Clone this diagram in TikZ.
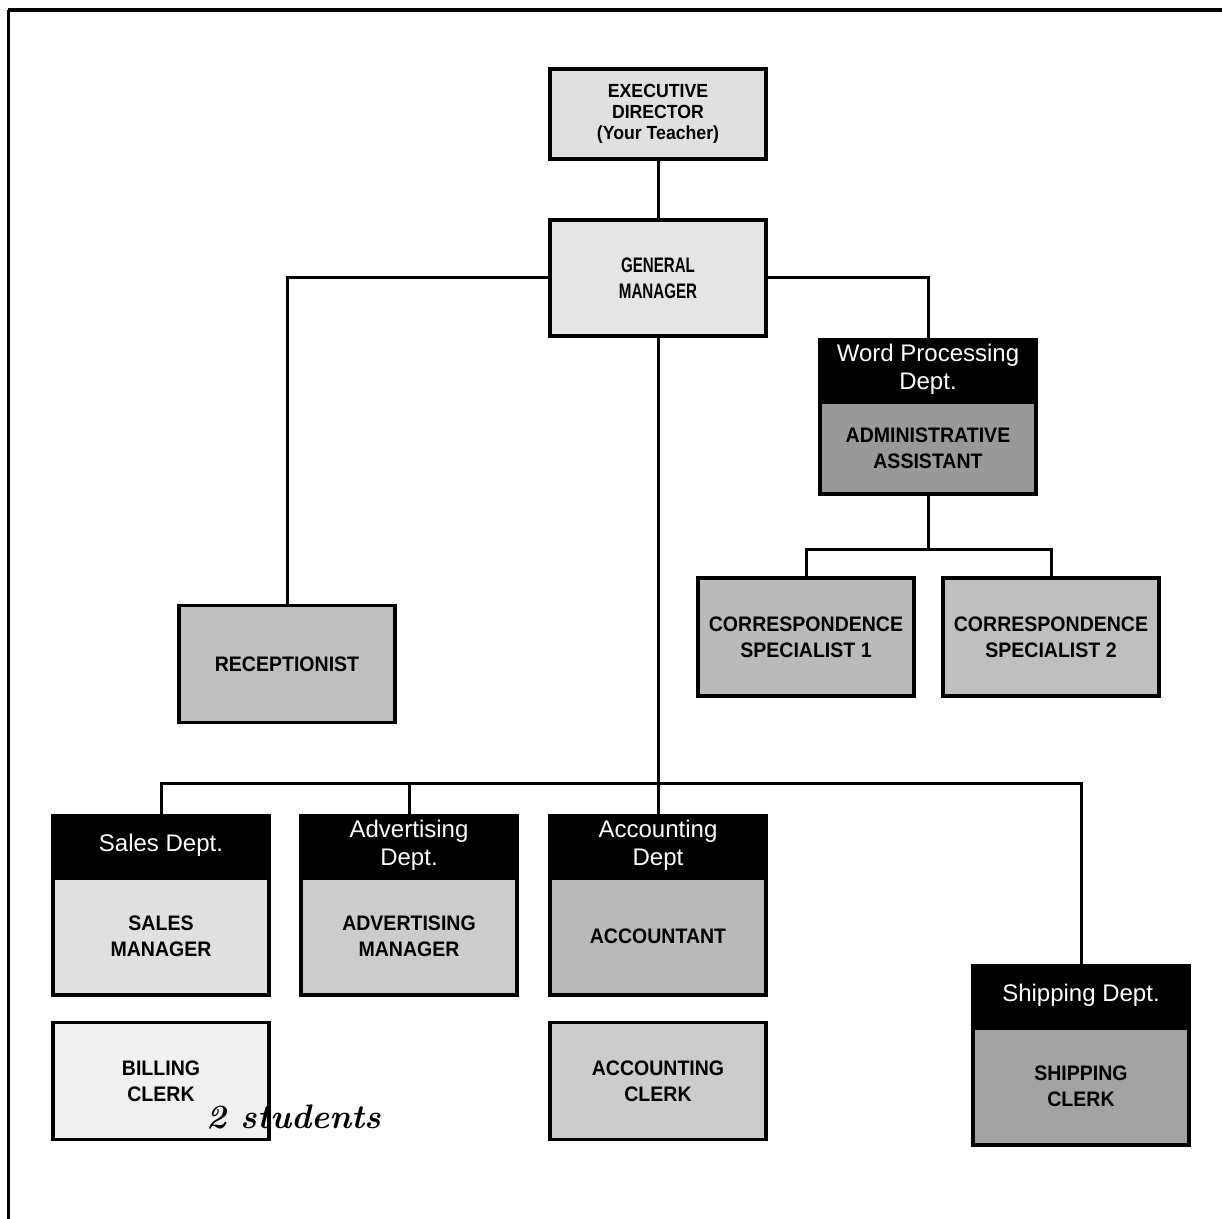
\documentclass[tikz,border=0pt]{standalone}
\usepackage{fontspec}
\usetikzlibrary{positioning}

\newfontfamily\cardfont[FakeStretch=0.93]{Liberation Sans Bold}
\newfontfamily\gmfont[FakeStretch=0.72]{Liberation Sans Bold}
\newfontfamily\deptfont{Liberation Sans}

\begin{document}
\begin{tikzpicture}[x=0.5pt, y=-0.5pt,
    card/.style={draw, line width=1.8pt, minimum width=108pt, minimum height=58.5pt,
        align=center, inner sep=1pt, font=\cardfont\fontsize{10.5}{13}\selectfont},
    depthead/.style={draw, line width=1.8pt, fill=black, text=white, minimum width=108pt,
        minimum height=29.5pt, align=center, inner sep=1pt, font=\deptfont\fontsize{12}{14}\selectfont},
    link/.style={line width=1.5pt}]

    \useasboundingbox (0,0) rectangle (1222,1219);

    % Frame (top and left edge of the sheet)
    \draw[line width=2.4pt] (1222,10) -- (8,10);
    \draw[line width=1.5pt] (8,10) -- (8,1219);

    % --- Top of the chart ---
    \node[card, fill=black!12, minimum height=45pt,
        font=\cardfont\fontsize{9.5}{10.5}\selectfont] (exec) at (658,114)
        {EXECUTIVE\\DIRECTOR\\(Your Teacher)};
    \node[card, fill=black!10, minimum height=58pt, font=\gmfont\fontsize{10.5}{13}\selectfont]
        (gm) at (658,278) {GENERAL\\MANAGER};
    \node[card, fill=black!25] (recep) at (287,664) {RECEPTIONIST};

    % --- Word Processing Dept. ---
    \node[depthead] (wphead) at (928,369) {Word Processing\\Dept.};
    \node[card, fill=black!40, minimum height=46pt, below=0pt of wphead] (admin)
        {ADMINISTRATIVE\\ASSISTANT};
    \node[card, fill=black!27, minimum height=59pt] (cs1) at (806,637)
        {CORRESPONDENCE\\SPECIALIST 1};
    \node[card, fill=black!25, minimum height=59pt] (cs2) at (1051,637)
        {CORRESPONDENCE\\SPECIALIST 2};
    \coordinate (wpbus) at (930,550);

    % --- Departments on the lower row ---
    \node[depthead] (saleshead) at (161,845) {Sales Dept.};
    \node[card, fill=black!12, below=0pt of saleshead] (sales) {SALES\\MANAGER};
    \node[card, fill=black!6] (billing) at (161,1081) {BILLING\\CLERK};

    \node[depthead] (advhead) at (409,845) {Advertising\\Dept.};
    \node[card, fill=black!20, below=0pt of advhead] (adv) {ADVERTISING\\MANAGER};

    \node[depthead] (acchead) at (658,845) {Accounting\\Dept};
    \node[card, fill=black!27, below=0pt of acchead] (acc) {ACCOUNTANT};
    \node[card, fill=black!20] (accclerk) at (658,1081) {ACCOUNTING\\CLERK};

    \node[depthead] (shiphead) at (1081,995) {Shipping Dept.};
    \node[card, fill=black!36, below=0pt of shiphead] (ship) {SHIPPING\\CLERK};
    \coordinate (bus) at (658,783);

    % handwritten note
    \node[font=\fontsize{17}{19}\selectfont\bfseries\itshape] (note) at (294,1117) {2 students};

    % --- Connectors ---
    \draw[link] (exec) -- (gm);
    \draw[link] (gm.west) -| (recep.north);
    \draw[link] (gm.east) -| (wphead.north);
    \draw[link] (admin.south) -- (admin.south |- wpbus);
    \draw[link] (cs1.north) -- (cs1.north |- wpbus) -| (cs2.north);
    \draw[link] (gm.south) -- (acchead.north);
    \draw[link] (saleshead.north) -- (saleshead.north |- bus) -| (shiphead.north);
    \draw[link] (advhead.north) -- (advhead.north |- bus);
\end{tikzpicture}
\end{document}
